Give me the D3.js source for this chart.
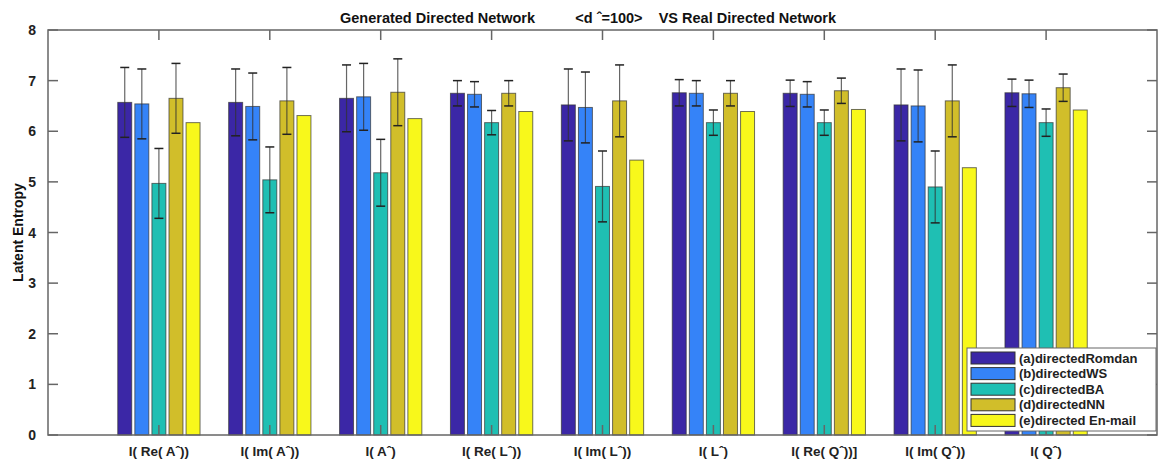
<!DOCTYPE html>
<html lang="en">
<head>
  <meta charset="UTF-8" />
  <title>Latent Entropy</title>
  <script src="https://d3js.org/d3.v7.min.js"></script>
  <style>
    html, body { margin: 0; padding: 0; background: #fff; }
    svg { display: block; font-family: "Liberation Sans", Arial, sans-serif; }
  </style>
</head>
<body>
  <svg id="chart" width="1165" height="460"></svg>
  <script>
    const categories = ["I( Re( Aˆ))", "I( Im( Aˆ))", "I( Aˆ)", "I( Re( Lˆ))", "I( Im( Lˆ))",
                        "I( Lˆ)", "I( Re( Qˆ))]", "I( Im( Qˆ))", "I( Qˆ)"];
    const seriesNames = ["(a)directedRomdan", "(b)directedWS", "(c)directedBA", "(d)directedNN", "(e)directed En-mail"];
    const colors = ["#3b27a6", "#3583f8", "#1fbfb3", "#d1be2a", "#f8f81b"];

    const randomVals = [6.57, 6.57, 6.65, 6.75, 6.52, 6.76, 6.75, 6.52, 6.76];
    const randomErr  = [0.69, 0.66, 0.66, 0.25, 0.71, 0.26, 0.26, 0.71, 0.27];
    const wsVals     = [6.54, 6.49, 6.68, 6.73, 6.47, 6.75, 6.73, 6.50, 6.74];
    const wsErr      = [0.69, 0.66, 0.66, 0.25, 0.70, 0.25, 0.25, 0.71, 0.27];
    const baVals     = [4.97, 5.04, 5.18, 6.17, 4.91, 6.17, 6.17, 4.90, 6.17];
    const baErr      = [0.69, 0.65, 0.66, 0.24, 0.70, 0.25, 0.25, 0.71, 0.27];
    const nnVals     = [6.65, 6.60, 6.77, 6.75, 6.60, 6.75, 6.80, 6.60, 6.86];
    const nnErr      = [0.69, 0.66, 0.66, 0.25, 0.71, 0.25, 0.25, 0.71, 0.27];
    const emailVals  = [6.17, 6.31, 6.25, 6.39, 5.43, 6.39, 6.43, 5.28, 6.42];

    const yTicks = [0, 1, 2, 3, 4, 5, 6, 7, 8];

    const series = [
      { vals: randomVals, err: randomErr },
      { vals: wsVals, err: wsErr },
      { vals: baVals, err: baErr },
      { vals: nnVals, err: nnErr },
      { vals: emailVals, err: null }
    ];

    const svg = d3.select("#chart");
    const plotLeft = 48, plotRight = 1157, plotTop = 30, plotBottom = 435;

    const x = d3.scaleLinear().domain([0, 10]).range([plotLeft, plotRight]);
    const y = d3.scaleLinear().domain([0, 8]).range([plotBottom, plotTop]);
    const unit = x(1) - x(0);
    const step = 0.154 * unit;
    const barW = 0.126 * unit;
    const axisColor = "#666";

    // bars
    series.forEach((s, si) => {
      const g = svg.append("g");
      g.selectAll("rect")
        .data(s.vals)
        .join("rect")
        .attr("x", (d, i) => x(i + 1) + (si - 2) * step - barW / 2)
        .attr("y", d => y(d))
        .attr("width", barW)
        .attr("height", d => y(0) - y(d))
        .attr("fill", colors[si])
        .attr("stroke", "#333")
        .attr("stroke-opacity", 0.7)
        .attr("stroke-width", 1);

      if (s.err) {
        const eb = g.selectAll("g.err")
          .data(s.vals.map((v, i) => ({ v, e: s.err[i], i })))
          .join("g").attr("class", "err");
        eb.append("line")
          .attr("x1", d => x(d.i + 1) + (si - 2) * step)
          .attr("x2", d => x(d.i + 1) + (si - 2) * step)
          .attr("y1", d => y(d.v - d.e))
          .attr("y2", d => y(d.v + d.e))
          .attr("stroke", "#333").attr("stroke-opacity", 0.75).attr("stroke-width", 1.2);
        [-1, 1].forEach(sgn => {
          eb.append("line")
            .attr("x1", d => x(d.i + 1) + (si - 2) * step - 4.5)
            .attr("x2", d => x(d.i + 1) + (si - 2) * step + 4.5)
            .attr("y1", d => y(d.v + sgn * d.e))
            .attr("y2", d => y(d.v + sgn * d.e))
            .attr("stroke", "#222").attr("stroke-width", 1.5);
        });
      }
    });

    // axes box
    svg.append("rect")
      .attr("x", plotLeft).attr("y", plotTop)
      .attr("width", plotRight - plotLeft).attr("height", plotBottom - plotTop)
      .attr("fill", "none").attr("stroke", axisColor).attr("stroke-width", 1.5);

    const tickLen = 10;
    // y ticks both sides
    yTicks.forEach(t => {
      svg.append("line").attr("x1", plotLeft).attr("x2", plotLeft + tickLen)
        .attr("y1", y(t)).attr("y2", y(t)).attr("stroke", axisColor).attr("stroke-width", 1.5);
      svg.append("line").attr("x1", plotRight).attr("x2", plotRight - tickLen)
        .attr("y1", y(t)).attr("y2", y(t)).attr("stroke", axisColor).attr("stroke-width", 1.5);
      svg.append("text").attr("x", plotLeft - 12).attr("y", y(t) + 5)
        .attr("text-anchor", "end").attr("font-size", 14).attr("font-weight", "bold")
        .attr("fill", "#222").text(t);
    });

    // x ticks top and bottom + labels
    categories.forEach((c, i) => {
      const cx = x(i + 1);
      svg.append("line").attr("x1", cx).attr("x2", cx)
        .attr("y1", plotTop).attr("y2", plotTop + tickLen).attr("stroke", axisColor).attr("stroke-width", 1.5);
      svg.append("line").attr("x1", cx).attr("x2", cx)
        .attr("y1", plotBottom).attr("y2", plotBottom - tickLen).attr("stroke", axisColor).attr("stroke-width", 1.5);
      svg.append("text").attr("x", cx).attr("y", 456)
        .attr("text-anchor", "middle").attr("font-size", 13.5).attr("font-weight", "bold")
        .attr("fill", "#222").text(c);
    });

    // title
    svg.append("text").attr("x", 588).attr("y", 23)
      .attr("text-anchor", "middle").attr("font-size", 14.5).attr("font-weight", "bold")
      .attr("fill", "#111").attr("xml:space", "preserve")
      .text("Generated Directed Network          <d ˆ=100>    VS Real Directed Network");

    // y label
    svg.append("text")
      .attr("transform", `translate(23,${(plotTop + plotBottom) / 2}) rotate(-90)`)
      .attr("text-anchor", "middle").attr("font-size", 14).attr("font-weight", "bold")
      .attr("fill", "#111").text("Latent Entropy");

    // legend
    const lg = svg.append("g").attr("transform", "translate(967,348)");
    lg.append("rect").attr("width", 189).attr("height", 83)
      .attr("fill", "#fff").attr("stroke", axisColor).attr("stroke-width", 1);
    seriesNames.forEach((n, i) => {
      lg.append("rect").attr("x", 4).attr("y", 4 + i * 15.6)
        .attr("width", 44).attr("height", 12)
        .attr("fill", colors[i]).attr("stroke", "#333").attr("stroke-width", 1);
      lg.append("text").attr("x", 52).attr("y", 14.5 + i * 15.6)
        .attr("font-size", 13).attr("font-weight", "bold").attr("fill", "#222").text(n);
    });
  </script>
</body>
</html>
